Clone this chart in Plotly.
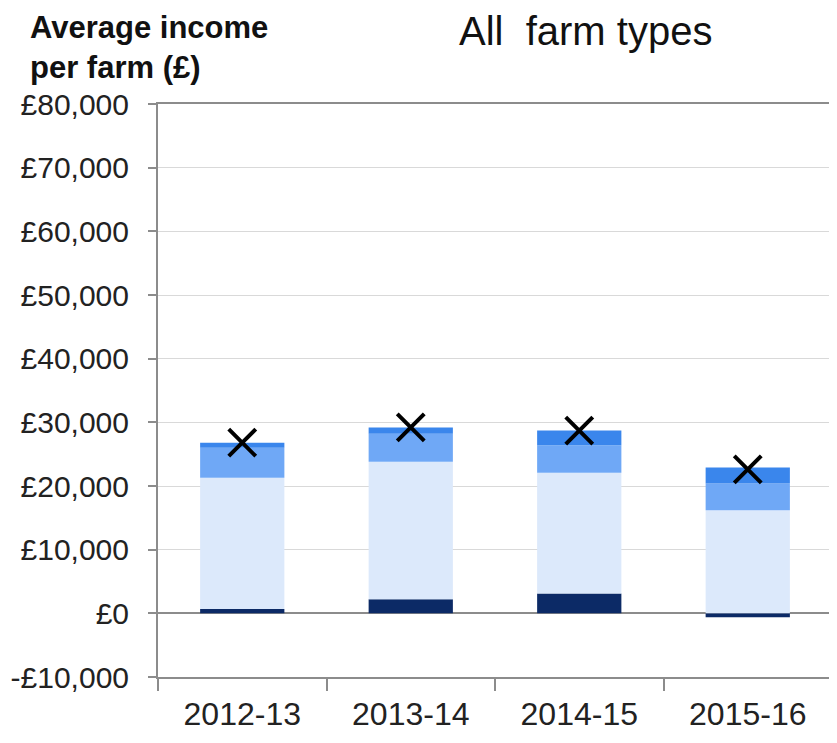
import plotly.graph_objects as go

years = ["2012-13", "2013-14", "2014-15", "2015-16"]
seg_dark = [700, 2200, 3100, -600]
seg_light = [20600, 21600, 19000, 16200]
seg_medium = [4700, 4400, 4300, 4200]
seg_bright = [800, 1000, 2300, 2500]
totals = [26800, 29200, 28700, 22600]

y_ticks = list(range(-10000, 80001, 10000))
y_labels = ["-£10,000", "£0", "£10,000", "£20,000", "£30,000", "£40,000",
            "£50,000", "£60,000", "£70,000", "£80,000"]

regular = "Liberation Sans, Arial, sans-serif"

fig = go.Figure()
for vals, col in [(seg_dark, "#0c2a66"), (seg_light, "#dce9fb"),
                  (seg_medium, "#6fa8f6"), (seg_bright, "#3a86ec")]:
    fig.add_trace(go.Bar(x=years, y=vals, marker=dict(color=col, line=dict(width=0)),
                         width=0.5, showlegend=False))

fig.add_trace(go.Scatter(x=years, y=totals, mode="markers", showlegend=False,
                         marker=dict(symbol="x-thin", size=27, color="black",
                                     line=dict(width=4, color="black"))))

fig.update_layout(
    barmode="relative",
    width=829, height=735,
    margin=dict(l=150, r=5, t=96, b=66),
    paper_bgcolor="white", plot_bgcolor="white",
    font=dict(family=regular, color="#1a1a1a"),
    annotations=[
        dict(text="All  farm types", x=0.634, xref="paper", y=1.127, yref="paper",
             xanchor="center", yanchor="middle",
             showarrow=False, font=dict(family=regular, size=40, color="#111")),
        dict(text="<b>Average income<br>per farm (£)</b>", xref="paper", yref="paper",
             x=-0.193, y=1.168, xanchor="left", yanchor="top", align="left",
             showarrow=False, font=dict(family=regular, size=31, color="#111")),
    ],
)

fig.update_yaxes(range=[-10000, 80000], tickvals=y_ticks, ticktext=y_labels,
                 automargin=False,
                 showgrid=True, gridcolor="#d9d9d9", gridwidth=1,
                 zeroline=True, zerolinecolor="#8c8c8c", zerolinewidth=2,
                 showline=True, linecolor="#8c8c8c", linewidth=2, mirror=True,
                 ticks="outside", ticklen=8, tickcolor="#8c8c8c", tickwidth=2,
                 ticklabelstandoff=13,
                 tickfont=dict(family=regular, size=30, color="#222"))
fig.update_xaxes(showline=True, linecolor="#8c8c8c", linewidth=2, mirror=True,
                 automargin=False,
                 ticks="outside", tickson="boundaries", ticklen=12,
                 tickcolor="#8c8c8c", tickwidth=2, ticklabelstandoff=8,
                 tickfont=dict(family=regular, size=32, color="#222"))

fig.write_html("out.html")
